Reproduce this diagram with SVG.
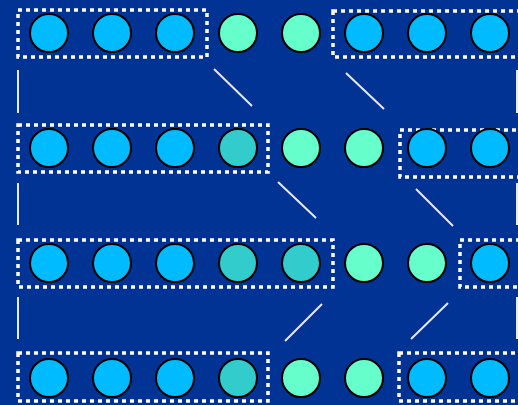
<svg xmlns="http://www.w3.org/2000/svg" width="518" height="405" viewBox="0 0 518 405">
<style>
.c{fill:#00BBFF;stroke:#000;stroke-width:2}
.a{fill:#66FFCC;stroke:#000;stroke-width:2}
.t{fill:#33CCCC;stroke:#000;stroke-width:2}
.box{fill:none;stroke:#fff;stroke-width:3.5;stroke-dasharray:4 4}
.ln{stroke:#e8e8ff;stroke-width:2;fill:none}
</style>
<rect width="518" height="405" fill="#003393"/>
<g id="groups">
<rect class="box" x="18" y="10" width="189" height="47"/>
<rect class="box" x="333" y="11" width="200" height="46"/>
<rect class="box" x="18" y="125" width="250" height="47"/>
<rect class="box" x="400" y="130" width="133" height="47"/>
<rect class="box" x="18" y="240" width="315" height="47"/>
<rect class="box" x="460" y="240" width="73" height="47"/>
<rect class="box" x="18" y="353" width="250" height="48"/>
<rect class="box" x="399" y="353" width="134" height="48"/>
</g>
<g id="connectors">
<line class="ln" x1="18" y1="70" x2="18" y2="113"/>
<line class="ln" x1="18" y1="183" x2="18" y2="225"/>
<line class="ln" x1="18" y1="297" x2="18" y2="339"/>
<line class="ln" x1="517" y1="70" x2="517" y2="113"/>
<line class="ln" x1="517" y1="183" x2="517" y2="225"/>
<line class="ln" x1="517" y1="297" x2="517" y2="339"/>
<line class="ln" x1="214" y1="69" x2="252" y2="106"/>
<line class="ln" x1="346" y1="73" x2="384" y2="109"/>
<line class="ln" x1="278" y1="182" x2="316" y2="218"/>
<line class="ln" x1="416" y1="189" x2="453" y2="226"/>
<line class="ln" x1="285" y1="341" x2="322" y2="304"/>
<line class="ln" x1="411" y1="339" x2="448" y2="303"/>
</g>
<g id="row1">
<circle id="n1_1" class="c" cx="49" cy="33" r="19"/>
<circle id="n1_2" class="c" cx="112" cy="33" r="19"/>
<circle id="n1_3" class="c" cx="175" cy="33" r="19"/>
<circle id="n1_4" class="a" cx="238" cy="33" r="19"/>
<circle id="n1_5" class="a" cx="301" cy="33" r="19"/>
<circle id="n1_6" class="c" cx="364" cy="33" r="19"/>
<circle id="n1_7" class="c" cx="427" cy="33" r="19"/>
<circle id="n1_8" class="c" cx="490" cy="33" r="19"/>
</g>
<g id="row2">
<circle id="n2_1" class="c" cx="49" cy="148" r="19"/>
<circle id="n2_2" class="c" cx="112" cy="148" r="19"/>
<circle id="n2_3" class="c" cx="175" cy="148" r="19"/>
<circle id="n2_4" class="t" cx="238" cy="148" r="19"/>
<circle id="n2_5" class="a" cx="301" cy="148" r="19"/>
<circle id="n2_6" class="a" cx="364" cy="148" r="19"/>
<circle id="n2_7" class="c" cx="427" cy="148" r="19"/>
<circle id="n2_8" class="c" cx="490" cy="148" r="19"/>
</g>
<g id="row3">
<circle id="n3_1" class="c" cx="49" cy="263" r="19"/>
<circle id="n3_2" class="c" cx="112" cy="263" r="19"/>
<circle id="n3_3" class="c" cx="175" cy="263" r="19"/>
<circle id="n3_4" class="t" cx="238" cy="263" r="19"/>
<circle id="n3_5" class="t" cx="301" cy="263" r="19"/>
<circle id="n3_6" class="a" cx="364" cy="263" r="19"/>
<circle id="n3_7" class="a" cx="427" cy="263" r="19"/>
<circle id="n3_8" class="c" cx="490" cy="263" r="19"/>
</g>
<g id="row4">
<circle id="n4_1" class="c" cx="49" cy="378" r="19"/>
<circle id="n4_2" class="c" cx="112" cy="378" r="19"/>
<circle id="n4_3" class="c" cx="175" cy="378" r="19"/>
<circle id="n4_4" class="t" cx="238" cy="378" r="19"/>
<circle id="n4_5" class="a" cx="301" cy="378" r="19"/>
<circle id="n4_6" class="a" cx="364" cy="378" r="19"/>
<circle id="n4_7" class="c" cx="427" cy="378" r="19"/>
<circle id="n4_8" class="c" cx="490" cy="378" r="19"/>
</g>
</svg>
